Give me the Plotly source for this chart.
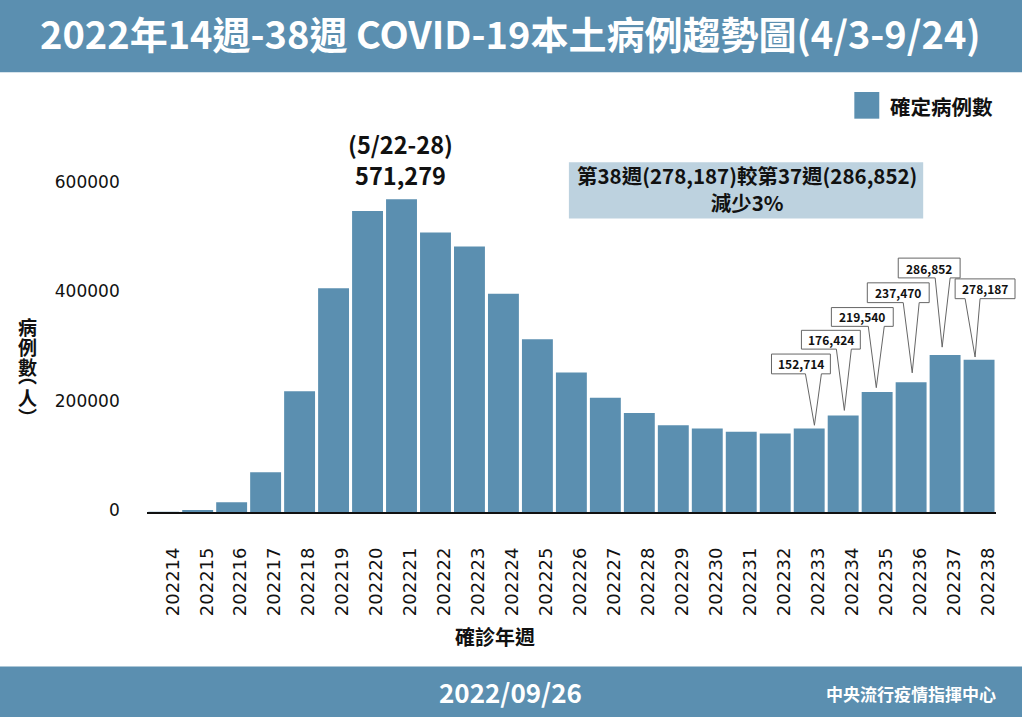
import plotly.graph_objects as go

W = 1024
H = 725
CJK = "Noto Sans CJK TC"
BLUE = "#5b8fb0"

weeks = [str(w) for w in range(202214, 202239)]
cases = [300, 4000, 18400, 73100, 221000, 408800, 550000, 571279, 510500, 485000,
         399000, 316000, 255000, 209000, 181000, 159000, 153000, 147000, 144000,
         152714, 176424, 219540, 237470, 286852, 278187]
y_ticks = [0, 200000, 400000, 600000]

# callouts: text, box (x0, x1, y0, y1), wedge base (x0, x1), tip (x, y), in pixels
callouts = [
    ("152,714", (773, 832, 358, 378), (807, 823), (816, 430)),
    ("176,424", (803, 862, 334, 353), (838, 853), (846, 415)),
    ("219,540", (833, 895, 311, 330), (870, 886), (878, 392)),
    ("237,470", (869, 931, 286, 306), (905, 921), (914, 377)),
    ("286,852", (900, 962, 261, 281), (937, 952), (944, 351)),
    ("278,187", (957, 1017, 282, 302), (967, 982), (977, 361)),
]
y_title = [("病", 330), ("例", 350), ("數", 371), ("︵", 379), ("人", 402), ("︶", 421)]


def px(x):
    return x / W


def py(y):
    return 1 - y / H


def rect(x0, x1, y0, y1, color):
    return dict(type="rect", xref="paper", yref="paper", x0=px(x0), x1=px(x1), y0=py(y0), y1=py(y1),
                fillcolor=color, line=dict(width=0), layer="below")


def label(x, y, text, size, color="#111111", anchor="center"):
    return dict(xref="paper", yref="paper", x=px(x), y=py(y), text=text, showarrow=False, xanchor=anchor,
                yanchor="middle", font=dict(family=CJK, size=size, color=color, weight="bold"))


fig = go.Figure(go.Bar(x=weeks, y=cases, width=0.91, marker=dict(color=BLUE, line=dict(width=0))))

shapes = [
    rect(0, W, 0, 73, BLUE),
    rect(0, W, 674, H, BLUE),
    rect(856, 881, 93, 120, BLUE),
    rect(570, 925, 164, 221, "#bdd2df"),
]
annotations = [
    label(511, 33, "2022年14週-38週 COVID-19本土病例趨勢圖(4/3-9/24)", 38, "white"),
    label(511, 699, "2022/09/26", 26, "white"),
    label(1000, 701, "中央流行疫情指揮中心", 17, "white", "right"),
    label(890, 107, "確定病例數", 20.5, anchor="left"),
    label(401, 161, "(5/22-28)<br>571,279", 23.5),
    label(748, 191, "第38週(278,187)較第37週(286,852)<br>減少3%", 20.5),
    label(496, 644, "確診年週", 20),
]
for ch, y in y_title:
    annotations.append(label(28, y, ch, 19))

for text, box, base, tip in callouts:
    x0, x1, y0, y1 = box
    points = [(x0, y0), (x1, y0), (x1, y1), (base[1], y1), tip, (base[0], y1), (x0, y1)]
    path = "M" + " L".join(f"{px(a):.5f},{py(b):.5f}" for a, b in points) + " Z"
    shapes.append(dict(type="path", xref="paper", yref="paper", path=path, fillcolor="white",
                       line=dict(color="#666666", width=1), layer="above"))
    annotations.append(label((x0 + x1) / 2, (y0 + y1) / 2, text, 12))

fig.update_layout(
    width=W,
    height=H,
    margin=dict(l=0, r=0, t=0, b=0),
    paper_bgcolor="white",
    plot_bgcolor="white",
    showlegend=False,
    shapes=shapes,
    annotations=annotations,
    xaxis=dict(domain=[px(147), px(998)], type="category", tickangle=-90, ticklen=0, ticklabelshift=9,
               ticklabelstandoff=26, tickfont=dict(family="DejaVu Sans", size=18, color="#111111"),
               showline=True, linecolor="#111111", linewidth=2, showgrid=False),
    yaxis=dict(domain=[py(518), py(130.2)], range=[0, 700000], tickvals=y_ticks, ticklen=0, ticklabelshift=-2,
               ticklabelstandoff=26, tickformat="d", tickfont=dict(family="DejaVu Sans", size=17, color="#111111"),
               showline=False, showgrid=False, zeroline=False),
)

fig.write_html("out.html", post_script="document.body.style.margin='0';document.documentElement.style.overflow='hidden';",
               config=dict(displayModeBar=False))
